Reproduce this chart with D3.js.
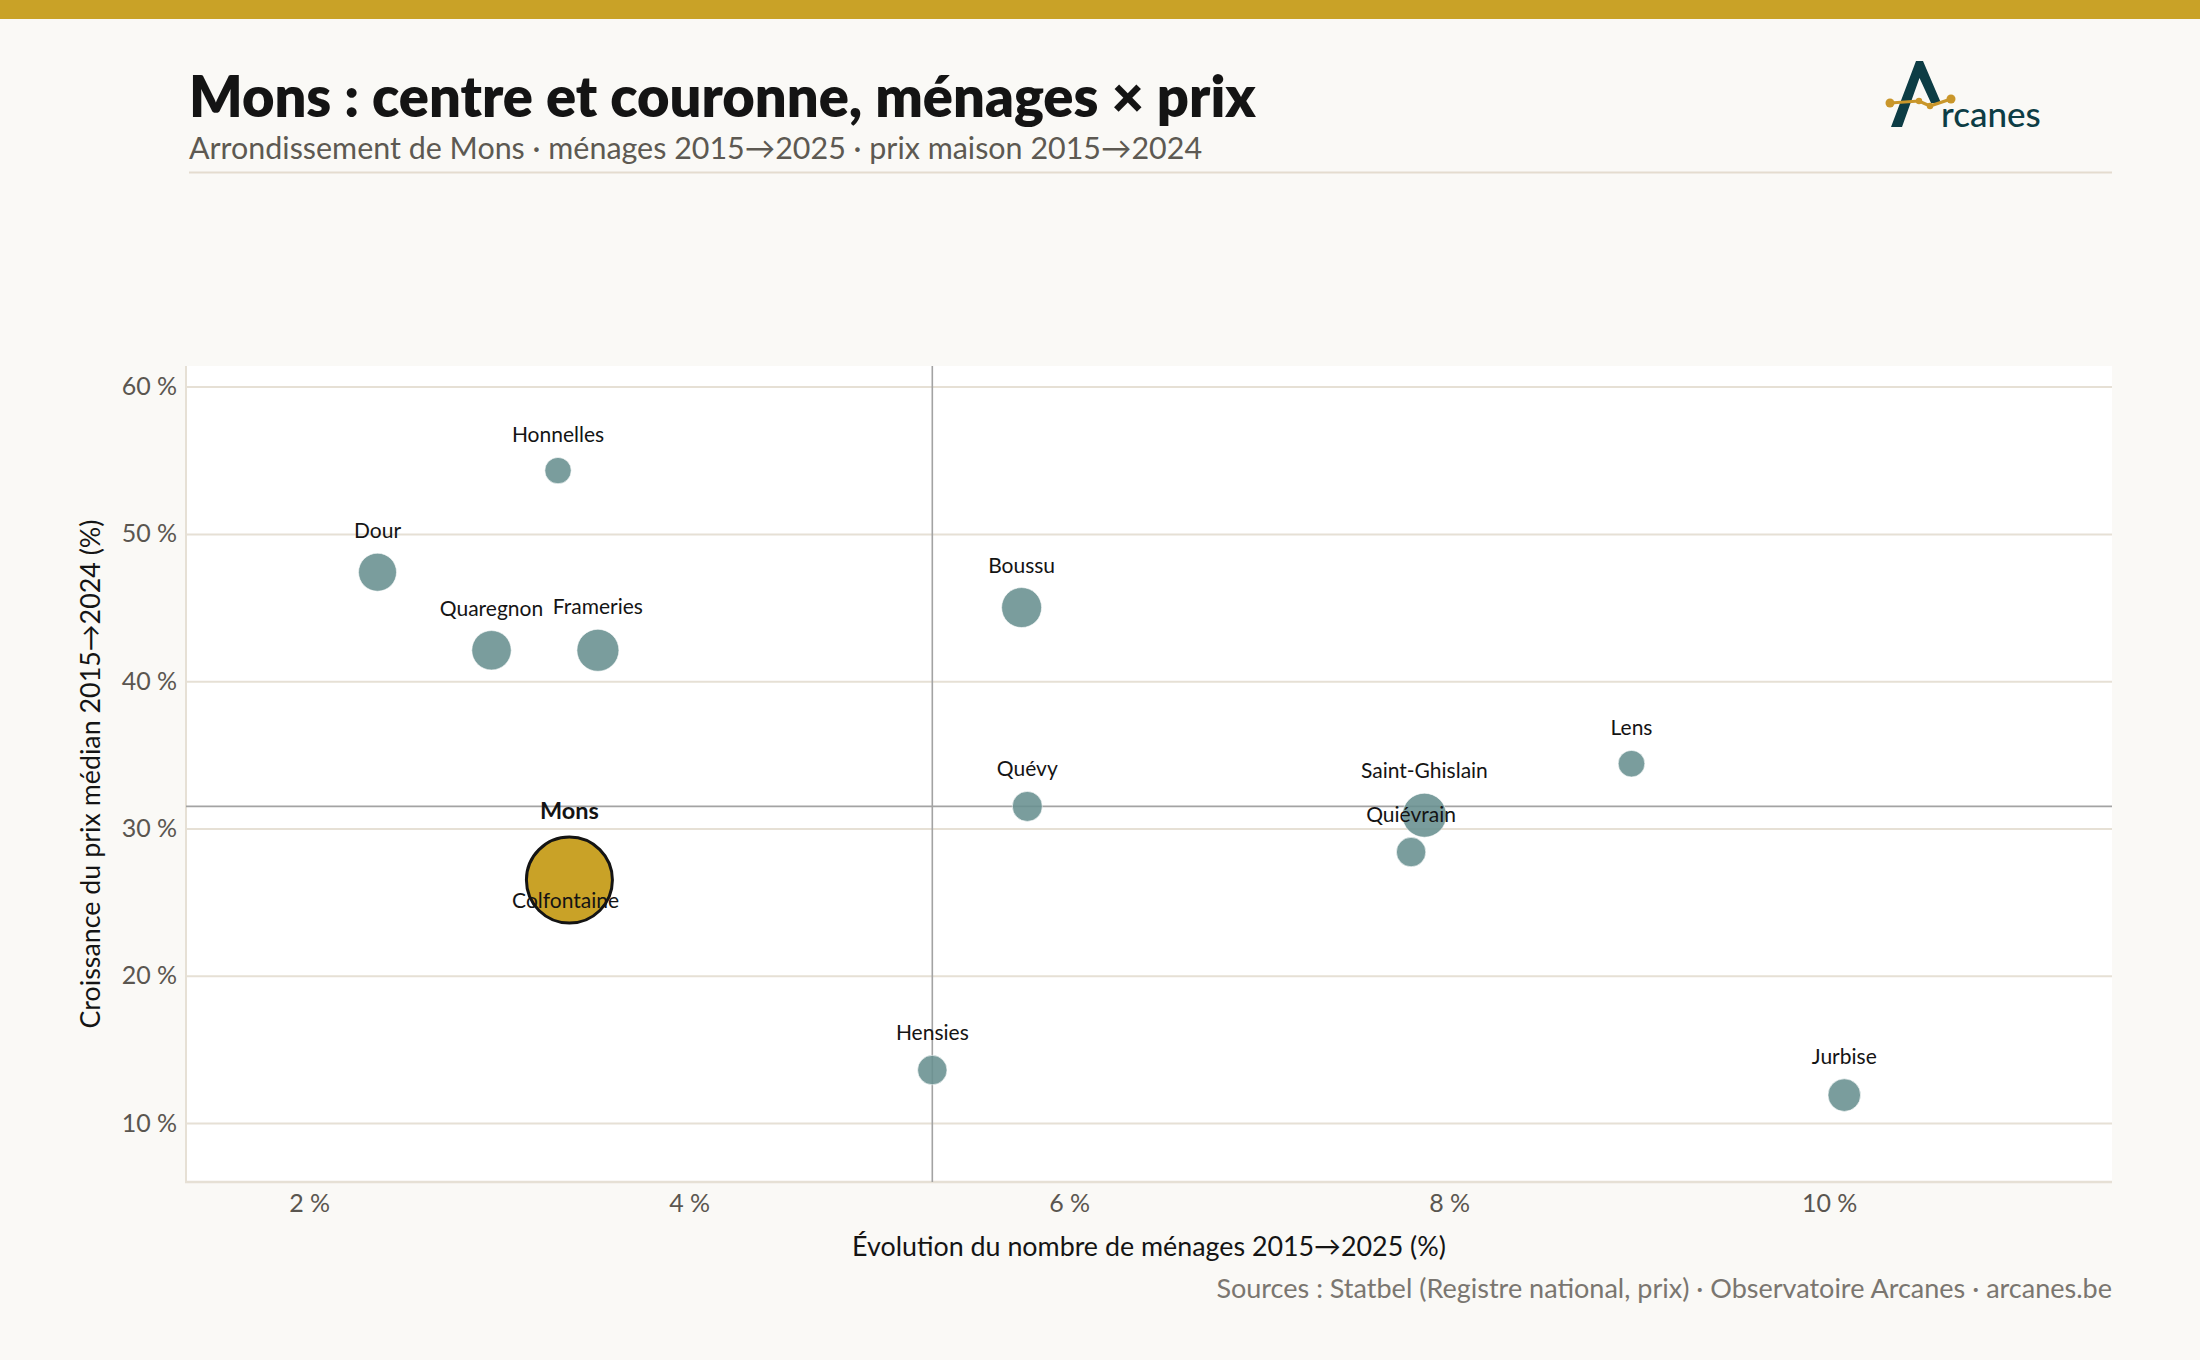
<!DOCTYPE html>
<html lang="fr">
<head>
<meta charset="utf-8">
<title>Mons : centre et couronne, ménages × prix</title>
<script src="https://cdn.jsdelivr.net/npm/d3@7"></script>
<style>
  html, body { margin: 0; padding: 0; background: #faf9f6; }
  svg { display: block; font-family: Lato, "Open Sans", sans-serif; }
</style>
</head>
<body>
<div id="chart"></div>
<script>
// communes of the arrondissement (Mons highlighted)
var communes = ["Colfontaine", "Honnelles", "Dour", "Quaregnon", "Frameries",
  "Boussu", "Quévy", "Hensies", "Saint-Ghislain", "Quiévrain", "Lens",
  "Jurbise", "Mons"];
// évolution du nombre de ménages 2015→2025 (%)
var evolMenages = [3.35, 3.31, 2.36, 2.96, 3.52, 5.75, 5.78, 5.28, 7.87, 7.80,
  8.96, 10.08, 3.37];
// croissance du prix médian maison 2015→2024 (%)
var croissancePrix = [26.4, 54.3, 47.4, 42.1, 42.1, 45.0, 31.5, 13.6, 30.9,
  28.4, 34.4, 11.9, 26.5];
// nombre de ménages 2025 (bubble size, estimated)
var menages = [8700, 2050, 6150, 6790, 8050, 7070, 3100, 2920, 9100, 2920,
  2130, 3980, 46000];
var highlight = "Mons";
var xTicks = [2, 4, 6, 8, 10];
var yTicks = [10, 20, 30, 40, 50, 60];

var W = 2200, H = 1360;
var M = { left: 186, right: 2112, top: 366, bottom: 1182 };
var GOLD = "#c9a227", INK = "#141414", GRID = "#e6e0d5";

var pts = communes.map(function (c, i) {
  return { name: c, x: evolMenages[i], y: croissancePrix[i], n: menages[i],
    hi: c === highlight };
});

var svg = d3.select("#chart").append("svg")
  .attr("width", W).attr("height", H)
  .attr("viewBox", "0 0 " + W + " " + H);

svg.append("rect").attr("width", W).attr("height", H).attr("fill", "#faf9f6");
svg.append("rect").attr("width", W).attr("height", 19).attr("fill", GOLD);

// fit a text to a measured width by scaling its font-size
function fit(sel, w) {
  var fs = parseFloat(sel.attr("font-size"));
  var len = sel.node().getComputedTextLength();
  if (len > 0) sel.attr("font-size", (fs * w / len).toFixed(2));
  return sel;
}

// header
fit(svg.append("text").attr("x", 189).attr("y", 117)
  .attr("font-size", 56).attr("font-weight", 800).attr("fill", INK)
  .text("Mons : centre et couronne, ménages × prix"), 1067);
fit(svg.append("text").attr("x", 189).attr("y", 159)
  .attr("font-size", 27).attr("fill", "#5d5952")
  .text("Arrondissement de Mons · ménages 2015→2025 · prix maison 2015→2024"), 1013);
svg.append("line").attr("x1", 189).attr("x2", M.right)
  .attr("y1", 172.5).attr("y2", 172.5)
  .attr("stroke", "#e4dccf").attr("stroke-width", 2);

// logo
var logo = svg.append("g");
logo.append("path")
  .attr("d", "M1916,61 L1923,61 L1941,103 L1931,103 L1919.5,78 L1902,127 L1891,127 Z")
  .attr("fill", "#0d3d45");
var gl = [[1890, 103], [1919, 101], [1930, 106], [1951, 99]];
logo.append("polyline").attr("points", gl.join(" "))
  .attr("fill", "none").attr("stroke", "#c9962a").attr("stroke-width", 3.2);
logo.selectAll("circle").data(gl).join("circle")
  .attr("cx", function (d) { return d[0]; }).attr("cy", function (d) { return d[1]; })
  .attr("r", function (d, i) { return i === 0 || i === 3 ? 4.5 : 3.2; })
  .attr("fill", "#c9962a");
logo.append("text").attr("x", 1941).attr("y", 127)
  .attr("font-size", 35).attr("font-weight", 500).attr("fill", "#0d3d45")
  .text("rcanes");

// scales
var x = d3.scaleLinear().domain([1.352, 11.489]).range([M.left, M.right]);
var y = d3.scaleLinear().domain([6.0, 61.4]).range([M.bottom, M.top]);
var r = d3.scaleSqrt().domain([1500, 46000]).range([12, 43]);
var pct = function (v) { return d3.format("d")(v) + "\u202f%"; };

svg.append("rect").attr("x", M.left).attr("y", M.top)
  .attr("width", M.right - M.left).attr("height", M.bottom - M.top)
  .attr("fill", "#fff");

// horizontal grid
var yAxis = svg.append("g").attr("transform", "translate(" + M.left + ",0)")
  .call(d3.axisLeft(y).tickValues(yTicks).tickFormat(pct)
    .tickSize(-(M.right - M.left)).tickPadding(9));
yAxis.select(".domain").remove();
yAxis.selectAll(".tick line").attr("stroke", GRID).attr("stroke-width", 2);
yAxis.selectAll(".tick text").attr("font-size", 25).attr("fill", "#5a5650")
  .attr("font-family", "Lato, sans-serif");

var xAxis = svg.append("g").attr("transform", "translate(0," + M.bottom + ")")
  .call(d3.axisBottom(x).tickValues(xTicks).tickFormat(pct)
    .tickSize(0).tickPadding(12));
xAxis.select(".domain").remove();
xAxis.selectAll(".tick text").attr("font-size", 25).attr("fill", "#5a5650")
  .attr("font-family", "Lato, sans-serif");

// axis lines
svg.append("line").attr("x1", M.left).attr("x2", M.left)
  .attr("y1", M.top).attr("y2", M.bottom + 1)
  .attr("stroke", GRID).attr("stroke-width", 2);
svg.append("line").attr("x1", M.left - 1).attr("x2", M.right)
  .attr("y1", M.bottom).attr("y2", M.bottom)
  .attr("stroke", GRID).attr("stroke-width", 2.5);

// median lines
var mx = d3.median(evolMenages), my = d3.median(croissancePrix);
svg.append("line").attr("x1", x(mx)).attr("x2", x(mx))
  .attr("y1", M.top).attr("y2", M.bottom)
  .attr("stroke", "#a3a3a3").attr("stroke-width", 1.6);
svg.append("line").attr("x1", M.left).attr("x2", M.right)
  .attr("y1", y(my)).attr("y2", y(my))
  .attr("stroke", "#a3a3a3").attr("stroke-width", 1.6);

// axis titles
fit(svg.append("text").attr("x", (M.left + M.right) / 2).attr("y", 1256)
  .attr("text-anchor", "middle").attr("font-size", 23).attr("fill", INK)
  .text("Évolution du nombre de ménages 2015→2025 (%)"), 594);
fit(svg.append("text")
  .attr("transform", "translate(100," + (M.top + M.bottom) / 2 + ") rotate(-90)")
  .attr("text-anchor", "middle").attr("font-size", 23).attr("fill", INK)
  .text("Croissance du prix médian 2015→2024 (%)"), 509);

// bubbles (highlight drawn last)
var order = pts.slice().sort(function (a, b) { return a.hi - b.hi; });
svg.append("g").selectAll("circle").data(order).join("circle")
  .attr("cx", function (d) { return x(d.x); })
  .attr("cy", function (d) { return y(d.y); })
  .attr("r", function (d) { return r(d.n); })
  .attr("fill", function (d) { return d.hi ? GOLD : "#68908f"; })
  .attr("fill-opacity", function (d) { return d.hi ? 1 : 0.88; })
  .attr("stroke", function (d) { return d.hi ? INK : "#fff"; })
  .attr("stroke-width", function (d) { return d.hi ? 3 : 1; })
  .attr("stroke-opacity", function (d) { return d.hi ? 1 : 0.6; });

// labels: above each bubble, below the centre when they would hit the highlight
var hp = pts.filter(function (d) { return d.hi; })[0];
svg.append("g").selectAll("text").data(pts).join("text")
  .attr("text-anchor", "middle")
  .attr("font-size", function (d) { return d.hi ? 23.5 : 21; })
  .attr("font-weight", function (d) { return d.hi ? 700 : 400; })
  .attr("fill", INK)
  .attr("x", function (d) { return x(d.x); })
  .attr("y", function (d) {
    var cy = y(d.y), rr = r(d.n);
    var base = cy - rr - (d.hi ? 18 : 15);
    if (!d.hi) {
      var dx = x(d.x) - x(hp.x), dy = (base - 8) - y(hp.y);
      if (Math.sqrt(dx * dx + dy * dy) < r(hp.n) + 4) base = cy + 26;
    }
    return base;
  })
  .text(function (d) { return d.name; });

// source
var src = svg.append("text").attr("x", M.right).attr("y", 1298)
  .attr("text-anchor", "end").attr("font-size", 23).attr("fill", "#7a7670")
  .text("Sources : Statbel (Registre national, prix) · Observatoire Arcanes · arcanes.be");
fit(src, 896);
</script>
</body>
</html>
